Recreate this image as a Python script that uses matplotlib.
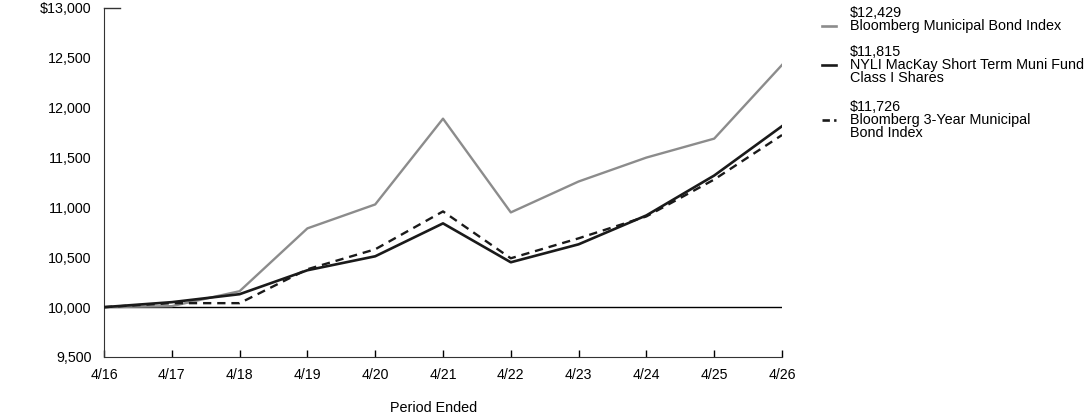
import matplotlib
matplotlib.use("Agg")
import matplotlib.pyplot as plt
from matplotlib.lines import Line2D
import matplotlib.transforms as mtransforms

plt.rcParams['font.family'] = ['Liberation Sans', 'DejaVu Sans']

# data
labels = ['4/16', '4/17', '4/18', '4/19', '4/20', '4/21', '4/22', '4/23', '4/24', '4/25', '4/26']
muni_index = [10000, 10010, 10160, 10790, 11030, 11890, 10950, 11260, 11500, 11690, 12429]
fund = [10000, 10050, 10130, 10370, 10510, 10840, 10450, 10630, 10920, 11320, 11815]
muni_3yr = [10000, 10040, 10040, 10380, 10580, 10960, 10490, 10690, 10910, 11280, 11726]

y_ticks = [9500, 10000, 10500, 11000, 11500, 12000, 12500, 13000]

gray = '#8c8c8c'
dark = '#1a1a1a'

fig = plt.figure(figsize=(10.92, 4.17), dpi=100)
ax = fig.add_axes([104 / 1092, 1 - 357 / 417, (782 - 104) / 1092, (357 - 8) / 417])

x = list(range(len(labels)))
ax.axhline(10000, color='black', lw=1.0, zorder=1)
ax.plot(x, muni_index, color=gray, lw=1.7, zorder=2)
ax.plot(x, muni_3yr, color=dark, lw=1.7, ls=(0, (3.5, 2.5)), zorder=3)
ax.plot(x, fund, color=dark, lw=1.9, zorder=4)

ax.set_xlim(0, len(labels) - 1)
ax.set_ylim(9500, 13000)
ax.set_xticks(x)
ax.set_xticklabels(labels)
ax.set_yticks(y_ticks)
ax.set_yticklabels(['$' + f'{v:,}' if v == 13000 else f'{v:,}' for v in y_ticks])

ax.tick_params(axis='x', direction='in', length=5, width=1, pad=8, labelsize=10.2, colors='black')
ax.tick_params(axis='y', length=0, pad=9, labelsize=10.3)
ax.spines['top'].set_visible(False)
ax.spines['right'].set_visible(False)
ax.spines['left'].set_color('#333333')
ax.spines['bottom'].set_color('#333333')

# short mark at the top of the y axis
trans = mtransforms.blended_transform_factory(ax.transAxes, ax.transData)
ax.plot([0, 0.024], [13000, 13000], color='#333333', lw=1, transform=trans, clip_on=False)

fig.text(434 / 1092, 1 - 408 / 417, 'Period Ended', ha='center', va='center', fontsize=10.4)

# legend on the right: (text lines with their y centres, line style, y of sample line)
entries = [
    (['$12,429', 'Bloomberg Municipal Bond Index'], [13, 26], gray, '-', 26),
    (['$11,815', 'NYLI MacKay Short Term Muni Fund', 'Class I Shares'], [52, 65, 78], dark, '-', 65),
    (['$11,726', 'Bloomberg 3-Year Municipal', 'Bond Index'], [107, 120, 133], dark, (0, (2.8, 1.6)), 120),
]
for lines, ys, color, ls, yl in entries:
    for txt, yc in zip(lines, ys):
        fig.text(850 / 1092, 1 - yc / 417, txt, ha='left', va='center', fontsize=10.4)
    fig.add_artist(Line2D([822 / 1092, 836 / 1092], [1 - yl / 417] * 2, color=color, lw=1.9, ls=ls))

fig.savefig('out.png', dpi=100)
